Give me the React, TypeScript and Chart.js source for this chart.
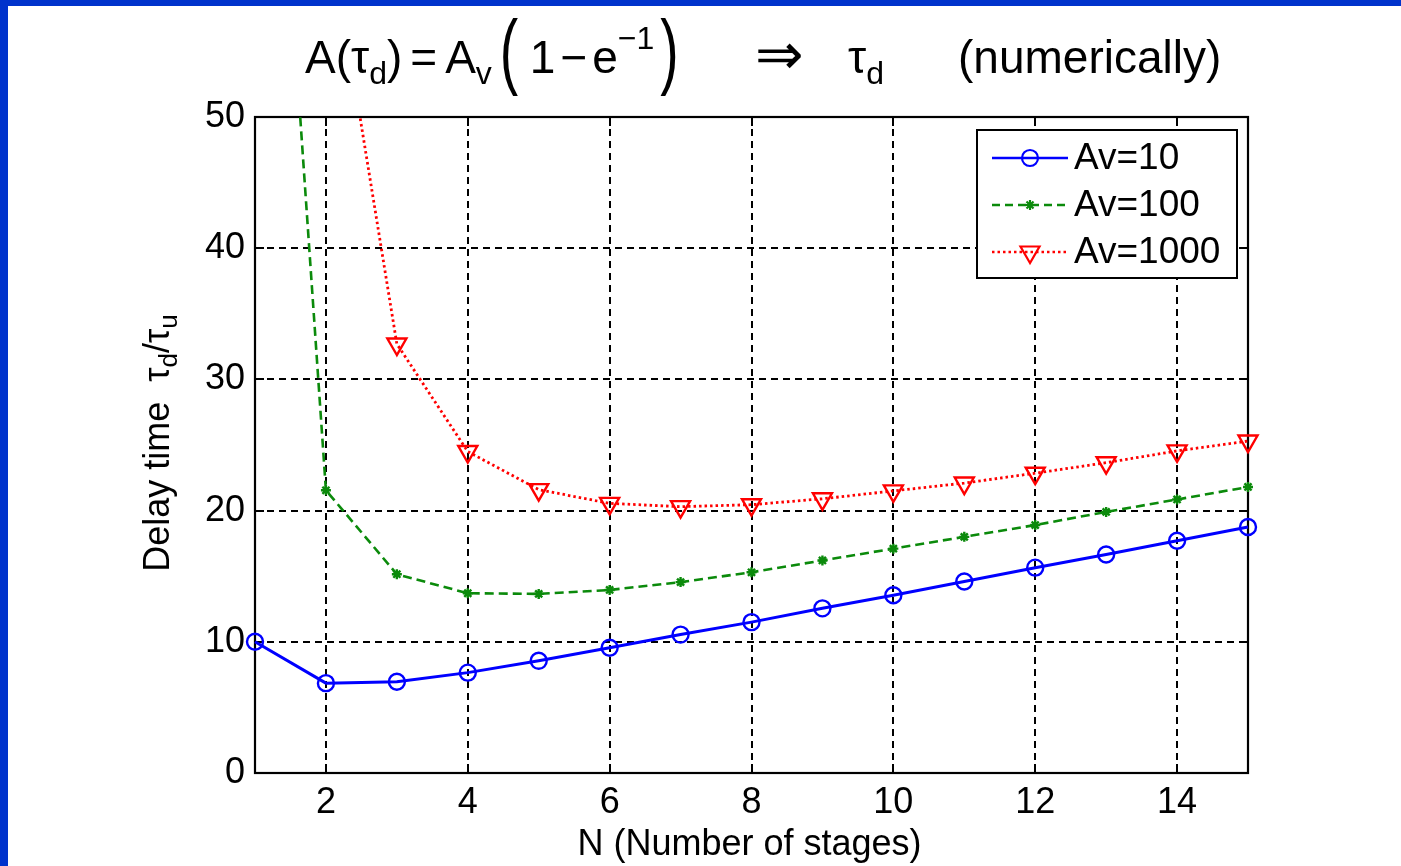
import React, { useEffect, useRef } from "react";
import { Chart, registerables } from "chart.js";

Chart.register(...registerables);

// ---- data ----
const stages = [1, 2, 3, 4, 5, 6, 7, 8, 9, 10, 11, 12, 13, 14, 15];
const av10 = [10, 6.85, 6.95, 7.65, 8.55, 9.55, 10.55, 11.5, 12.55, 13.55, 14.6, 15.65, 16.65, 17.7, 18.75];
const av100 = [100, 21.55, 15.15, 13.7, 13.65, 13.95, 14.55, 15.3, 16.2, 17.1, 18.0, 18.9, 19.9, 20.85, 21.8];
const av1000 = [1000, 66, 32.7, 24.5, 21.6, 20.55, 20.3, 20.45, 20.9, 21.5, 22.1, 22.85, 23.65, 24.55, 25.3];
const seriesLabels = ["Av=10", "Av=100", "Av=1000"];
const xTicks = [2, 4, 6, 8, 10, 12, 14];
const yTicks = [0, 10, 20, 30, 40, 50];
const xTitle = "N (Number of stages)";

const FONT = '"Liberation Sans", Arial, Helvetica, sans-serif';
const BLUE = "#0000ff";
const GREEN = "#0b8a0b";
const RED = "#ff0000";

function drawMarker(ctx: CanvasRenderingContext2D, kind: string, x: number, y: number, color: string) {
  ctx.save();
  ctx.setLineDash([]);
  ctx.strokeStyle = color;
  ctx.lineWidth = 2.2;
  ctx.beginPath();
  if (kind === "circle") {
    ctx.arc(x, y, 8, 0, Math.PI * 2);
  } else if (kind === "star") {
    const r = 5;
    ctx.moveTo(x - r, y); ctx.lineTo(x + r, y);
    ctx.moveTo(x, y - r); ctx.lineTo(x, y + r);
    ctx.moveTo(x - r * 0.7, y - r * 0.7); ctx.lineTo(x + r * 0.7, y + r * 0.7);
    ctx.moveTo(x - r * 0.7, y + r * 0.7); ctx.lineTo(x + r * 0.7, y - r * 0.7);
  } else {
    const r = 11;
    const a0 = Math.PI; // pointing down
    for (let i = 0; i < 3; i++) {
      const a = a0 + (i * 2 * Math.PI) / 3;
      const px = x + Math.sin(a) * r;
      const py = y - Math.cos(a) * r;
      if (i === 0) ctx.moveTo(px, py); else ctx.lineTo(px, py);
    }
    ctx.closePath();
  }
  ctx.stroke();
  ctx.restore();
}

const decorPlugin = {
  id: "decor",
  beforeDraw(chart: any) {
    const { ctx, width, height } = chart;
    ctx.save();
    ctx.fillStyle = "#ffffff";
    ctx.fillRect(0, 0, width, height);
    ctx.fillStyle = "#0033cc";
    ctx.fillRect(0, 0, 8, height);
    ctx.fillRect(0, 0, width, 6);
    ctx.restore();
  },
  beforeDatasetsDraw(chart: any) {
    const { ctx, chartArea: a, scales } = chart;
    const xs = scales.x;
    const ys = scales.y;
    ctx.save();
    ctx.strokeStyle = "#000";
    ctx.lineWidth = 2;
    ctx.setLineDash([7, 5]);
    xTicks.forEach((v) => {
      const px = Math.round(xs.getPixelForValue(v));
      ctx.beginPath(); ctx.moveTo(px, a.top); ctx.lineTo(px, a.bottom); ctx.stroke();
    });
    yTicks.forEach((v) => {
      const py = Math.round(ys.getPixelForValue(v));
      if (py <= a.top + 2 || py >= a.bottom - 2) return;
      ctx.beginPath(); ctx.moveTo(a.left, py); ctx.lineTo(a.right, py); ctx.stroke();
    });
    ctx.setLineDash([]);
    // inward ticks
    const tl = 9;
    xTicks.forEach((v) => {
      const px = Math.round(xs.getPixelForValue(v));
      ctx.beginPath();
      ctx.moveTo(px, a.bottom); ctx.lineTo(px, a.bottom - tl);
      ctx.moveTo(px, a.top); ctx.lineTo(px, a.top + tl);
      ctx.stroke();
    });
    yTicks.forEach((v) => {
      const py = Math.round(ys.getPixelForValue(v));
      ctx.beginPath();
      ctx.moveTo(a.left, py); ctx.lineTo(a.left + tl, py);
      ctx.moveTo(a.right, py); ctx.lineTo(a.right - tl, py);
      ctx.stroke();
    });
    ctx.lineWidth = 2.2;
    ctx.strokeRect(a.left, a.top, a.right - a.left, a.bottom - a.top);
    ctx.restore();
  },
  afterDraw(chart: any) {
    const { ctx, chartArea: a } = chart;
    ctx.save();
    ctx.fillStyle = "#000";

    // ---- legend ----
    const lx = 977, ly = 130, lw = 260, lh = 148;
    ctx.fillStyle = "#fff";
    ctx.fillRect(lx, ly, lw, lh);
    ctx.strokeStyle = "#000";
    ctx.lineWidth = 2;
    ctx.setLineDash([]);
    ctx.strokeRect(lx, ly, lw, lh);
    const rows = [158, 205, 252];
    const colors = [BLUE, GREEN, RED];
    const dashes = [[], [8, 5], [2.5, 3]];
    const kinds = ["circle", "star", "triangle"];
    rows.forEach((ry, i) => {
      ctx.strokeStyle = colors[i];
      ctx.lineWidth = 2.4;
      ctx.setLineDash(dashes[i]);
      ctx.beginPath(); ctx.moveTo(992, ry); ctx.lineTo(1068, ry); ctx.stroke();
      drawMarker(ctx, kinds[i], 1030, ry, colors[i]);
      ctx.setLineDash([]);
      ctx.fillStyle = "#000";
      ctx.font = `37px ${FONT}`;
      ctx.textAlign = "left";
      ctx.textBaseline = "middle";
      ctx.fillText(seriesLabels[i], 1074, ry + 1);
    });

    // ---- x axis title ----
    ctx.font = `36px ${FONT}`;
    ctx.textAlign = "center";
    ctx.textBaseline = "middle";
    ctx.fillStyle = "#000";
    ctx.fillText(xTitle, (a.left + a.right) / 2 - 2, 845);

    // ---- y axis title (rotated, with subscripts) ----
    ctx.save();
    const ySegs: [string, boolean][] = [["Delay time  τ", false], ["d", true], ["/τ", false], ["u", true]];
    const big = `36px ${FONT}`;
    const small = `26px ${FONT}`;
    let tw = 0;
    ySegs.forEach(([t, sub]) => { ctx.font = sub ? small : big; tw += ctx.measureText(t).width; });
    ctx.translate(169, 443);
    ctx.rotate(-Math.PI / 2);
    ctx.textAlign = "left";
    ctx.textBaseline = "alphabetic";
    let cx = -tw / 2;
    ySegs.forEach(([t, sub]) => {
      ctx.font = sub ? small : big;
      ctx.fillText(t, cx, sub ? 8 : 0);
      cx += ctx.measureText(t).width;
    });
    ctx.restore();

    // ---- title ----
    const tBig = `46px ${FONT}`;
    const tSmall = `32px ${FONT}`;
    const base = 73;
    ctx.textAlign = "left";
    ctx.textBaseline = "alphabetic";
    let x = 305;
    const put = (t: string, kind: "n" | "sub" | "sup", gap = 0) => {
      ctx.font = kind === "n" ? tBig : tSmall;
      const dy = kind === "sub" ? 11 : kind === "sup" ? -24 : 0;
      ctx.fillText(t, x, base + dy);
      x += ctx.measureText(t).width + gap;
    };
    const paren = (t: string, w: number) => {
      ctx.save();
      ctx.font = tBig;
      ctx.translate(x, 56);
      ctx.scale(1.2, 1.8);
      ctx.textBaseline = "middle";
      ctx.fillText(t, 0, 0);
      ctx.restore();
      x += w;
    };
    put("A(", "n");
    put("τ", "n");
    put("d", "sub");
    put(")", "n", 8);
    put("=", "n", 8);
    put("A", "n");
    put("v", "sub", 8);
    paren("(", 30);
    put("1", "n", 5);
    put("−", "n", 5);
    put("e", "n");
    put("−1", "sup", 6);
    paren(")", 20);
    ctx.font = `58px "DejaVu Sans", ${FONT}`;
    ctx.fillText("⇒", 755, 74);
    x = 848;
    put("τ", "n");
    put("d", "sub");
    x = 958;
    put("(numerically)", "n");

    ctx.restore();
  },
};

export default function App() {
  const ref = useRef<HTMLCanvasElement | null>(null);
  useEffect(() => {
    if (!ref.current) return;
    const mk = (vals: number[]) => stages.map((s, i) => ({ x: s, y: vals[i] }));
    const clip = { left: 20, right: 20, top: 0, bottom: 0 };
    const chart = new Chart(ref.current, {
      type: "line",
      data: {
        datasets: [
          {
            label: seriesLabels[0],
            data: mk(av10),
            borderColor: BLUE,
            backgroundColor: "transparent",
            borderWidth: 3,
            pointStyle: "circle",
            pointRadius: 8,
            pointBorderWidth: 2.4,
            pointBorderColor: BLUE,
            pointBackgroundColor: "transparent",
            clip,
          },
          {
            label: seriesLabels[1],
            data: mk(av100),
            borderColor: GREEN,
            backgroundColor: "transparent",
            borderWidth: 2.6,
            borderDash: [9, 5],
            pointStyle: "star",
            pointRadius: 5,
            pointBorderWidth: 2.4,
            pointBorderColor: GREEN,
            pointBackgroundColor: GREEN,
            clip,
          },
          {
            label: seriesLabels[2],
            data: mk(av1000),
            borderColor: RED,
            backgroundColor: "transparent",
            borderWidth: 2.8,
            borderDash: [2.5, 3],
            pointStyle: "triangle",
            rotation: 180,
            pointRadius: 11,
            pointBorderWidth: 2.4,
            pointBorderColor: RED,
            pointBackgroundColor: "transparent",
            clip,
          },
        ],
      },
      options: {
        animation: false,
        responsive: false,
        devicePixelRatio: 1,
        layout: { padding: { top: 117, right: 153, left: 0, bottom: 0 } },
        plugins: { legend: { display: false }, title: { display: false }, tooltip: { enabled: false } },
        elements: { line: { tension: 0 } },
        scales: {
          x: {
            type: "linear",
            min: 1,
            max: 15,
            grid: { display: false, drawTicks: false },
            border: { display: false },
            afterBuildTicks: (s: any) => { s.ticks = xTicks.map((v) => ({ value: v })); },
            afterFit: (s: any) => { s.height = 93; },
            ticks: { color: "#000", font: { family: FONT, size: 36 }, padding: 8, maxRotation: 0, autoSkip: false },
          },
          y: {
            type: "linear",
            min: 0,
            max: 50,
            grid: { display: false, drawTicks: false },
            border: { display: false },
            afterBuildTicks: (s: any) => { s.ticks = yTicks.map((v) => ({ value: v })); },
            afterFit: (s: any) => { s.width = 255; },
            ticks: { color: "#000", font: { family: FONT, size: 36 }, padding: 10 },
          },
        },
      },
      plugins: [decorPlugin],
    } as any);
    return () => chart.destroy();
  }, []);
  return (
    <div style={{ position: "fixed", left: 0, top: 0, width: 1401, height: 866, background: "#fff" }}>
      <canvas ref={ref} width={1401} height={866} style={{ width: 1401, height: 866, display: "block" }} />
    </div>
  );
}
